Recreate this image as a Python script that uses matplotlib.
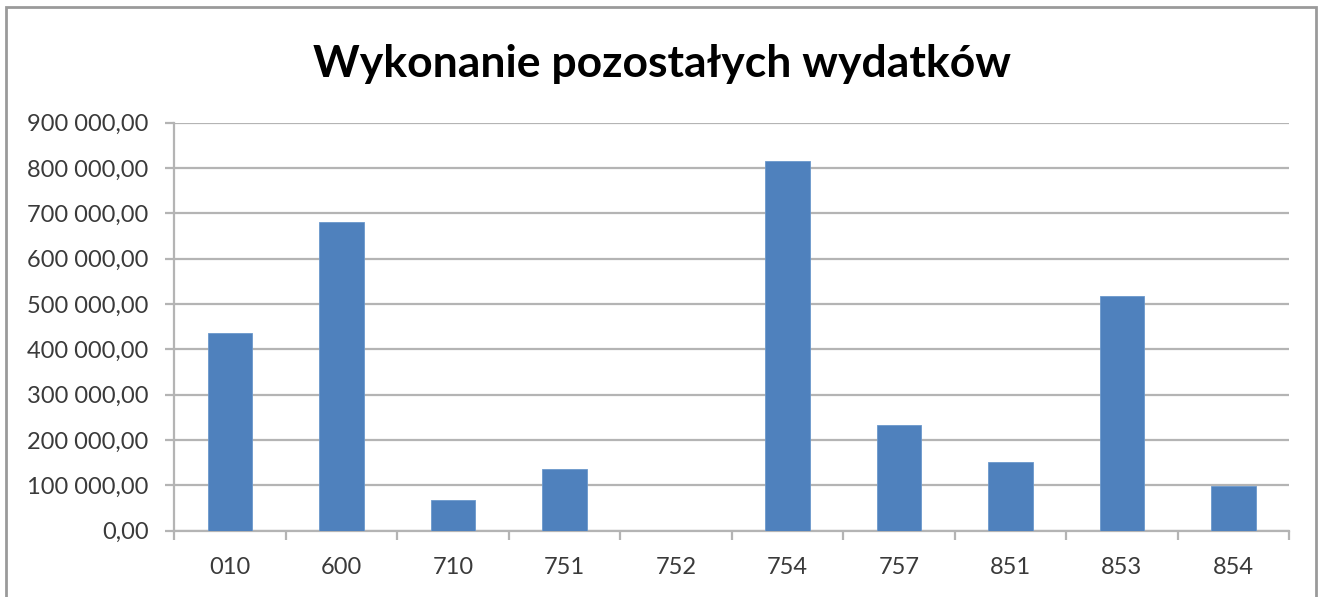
import matplotlib.pyplot as plt
import numpy as np
from matplotlib.patches import Rectangle
from matplotlib.ticker import FuncFormatter, FixedLocator, MultipleLocator

# Data
categories = ["010", "600", "710", "751", "752", "754", "757", "851", "853", "854"]
values = [437000, 680500, 67700, 135500, 0, 814500, 232500, 152000, 517800, 98800]
title = "Wykonanie pozostałych wydatków"

plt.rcParams["font.family"] = ["Lato", "DejaVu Sans"]

GRID = "#b4b4b4"
TEXT = "#3a3a3a"

fig = plt.figure(figsize=(13.19, 5.97), dpi=100)
ax = fig.add_axes([0.1322, 0.1111, 0.8451, 0.6834])

x = np.arange(len(categories))
ax.bar(x, values, width=0.4, color="#4F81BD", edgecolor="#6b98cc", linewidth=0.6, zorder=3)

ax.set_xlim(-0.5, len(categories) - 0.5)
ax.set_ylim(0, 900000)

# y axis: gridlines + outward ticks
ax.yaxis.set_major_locator(MultipleLocator(100000))
ax.yaxis.set_major_formatter(
    FuncFormatter(lambda v, p: f"{v:,.2f}".replace(",", " ").replace(".", ","))
)
ax.grid(axis="y", color=GRID, linewidth=1.6, zorder=0)

# x axis: category labels at centres, ticks at boundaries
ax.set_xticks(x)
ax.set_xticklabels(categories)
ax.xaxis.set_minor_locator(FixedLocator(np.arange(-0.5, len(categories), 1.0)))
ax.tick_params(axis="x", which="major", length=0, pad=19)
ax.tick_params(axis="x", which="minor", length=6.5, width=1.6, color=GRID, direction="out")
ax.tick_params(axis="y", length=6.5, width=1.6, color=GRID, direction="out", pad=12)
ax.tick_params(labelsize=17, labelcolor=TEXT)

for side in ["top", "right"]:
    ax.spines[side].set_visible(False)
for side in ["left", "bottom"]:
    ax.spines[side].set_color(GRID)
    ax.spines[side].set_linewidth(1.6)

fig.text(0.502, 0.893, title, ha="center", va="center", fontsize=32,
         fontweight="bold", color="black")

# outer chart frame
fig.patches.append(Rectangle((6 / 1319, -0.05), 1310 / 1319, 1.05 - 7 / 597,
                             transform=fig.transFigure, fill=False,
                             edgecolor="#9a9a9a", linewidth=2.0))

fig.savefig("out.png", dpi=100)
